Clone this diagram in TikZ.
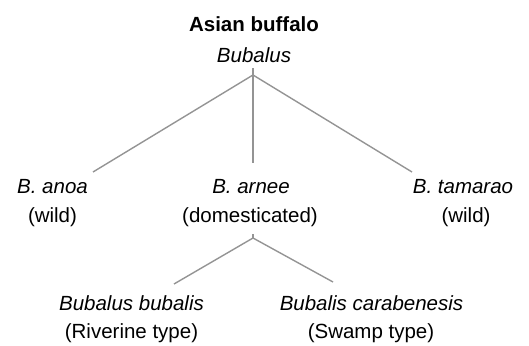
\documentclass[tikz,border=0pt]{standalone}
\usepackage{fontspec}
\setmainfont{Liberation Sans}
\usepackage{tikz}

\begin{document}
\begin{tikzpicture}[x=1pt,y=-1pt,
  every node/.style={anchor=base,inner sep=0pt,font=\fontsize{20.5}{24}\selectfont},
  taxon/.style={font=\fontsize{20.5}{24}\selectfont\itshape},
  branch/.style={draw=black!42,line width=1.4pt}]
\useasboundingbox (0,0) rectangle (529,345);
% genus
\node[font=\fontsize{20.5}{24}\selectfont\bfseries] (asian) at (254,32) {Asian buffalo};
\node[taxon] (bubalus) at (254,62) {Bubalus};
% species
\node[taxon] (anoa) at (52.5,193) {B. anoa};
\node (anoaN) at (52.5,222) {(wild)};
\node[taxon] (arnee) at (251,193) {B. arnee};
\node (arneeN) at (250,222) {(domesticated)};
\node[taxon] (tamarao) at (463,193) {B. tamarao};
\node (tamaraoN) at (466,222) {(wild)};
% types
\node[taxon] (bubalis) at (131.5,310) {Bubalus bubalis};
\node (bubalisN) at (131.5,338) {(Riverine type)};
\node[taxon] (carab) at (371.5,310) {Bubalis carabenesis};
\node (carabN) at (371,338) {(Swamp type)};
% branches
\coordinate (root) at (253,68);
\coordinate (fork) at (253,75);
\coordinate (anoaEnd) at (93,172);
\coordinate (arneeEnd) at (253,163);
\coordinate (tamaraoEnd) at (412,172);
\draw[branch] (root) -- (arneeEnd);
\draw[branch] (anoaEnd) -- (fork) -- (tamaraoEnd);
\coordinate (dom) at (253,234);
\coordinate (fork2) at (253,238);
\coordinate (bubalisEnd) at (174,284);
\coordinate (carabEnd) at (333,282);
\draw[branch] (dom) -- (fork2);
\draw[branch] (bubalisEnd) -- (fork2) -- (carabEnd);
\end{tikzpicture}
\end{document}
